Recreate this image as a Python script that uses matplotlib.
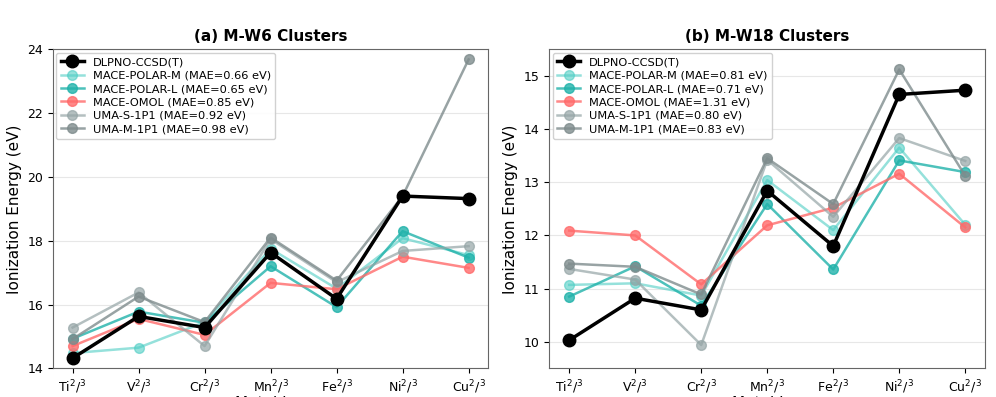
import numpy as np
import matplotlib
matplotlib.use('Agg')
import matplotlib.pyplot as plt

metals = ['Ti', 'V', 'Cr', 'Mn', 'Fe', 'Ni', 'Cu']
tick_labels = [m + r'$^{2}$/$^{3}$' for m in metals]

methods = ['DLPNO-CCSD(T)', 'MACE-POLAR-M', 'MACE-POLAR-L', 'MACE-OMOL', 'UMA-S-1P1', 'UMA-M-1P1']

# (a) M-W6 clusters, ionization energies in eV
w6_dlpno = [14.32, 15.63, 15.28, 17.63, 16.18, 19.40, 19.32]
w6_polar_m = [14.48, 14.65, 15.45, 17.75, 16.50, 18.08, 17.55]
w6_polar_l = [14.93, 15.78, 15.43, 17.20, 15.92, 18.30, 17.47]
w6_omol = [14.70, 15.55, 15.05, 16.68, 16.48, 17.50, 17.15]
w6_uma_s = [15.28, 16.38, 14.70, 18.05, 16.70, 17.68, 17.83]
w6_uma_m = [14.92, 16.25, 15.45, 18.10, 16.75, 19.40, 23.68]
w6_mae = [0.66, 0.65, 0.85, 0.92, 0.98]

# (b) M-W18 clusters
w18_dlpno = [10.03, 10.82, 10.60, 12.84, 11.80, 14.65, 14.73]
w18_polar_m = [11.07, 11.10, 10.87, 13.04, 12.10, 13.65, 12.20]
w18_polar_l = [10.85, 11.42, 10.68, 12.59, 11.36, 13.41, 13.19]
w18_omol = [12.09, 12.00, 11.08, 12.19, 12.52, 13.16, 12.15]
w18_uma_s = [11.37, 11.17, 9.94, 13.42, 12.35, 13.83, 13.40]
w18_uma_m = [11.47, 11.41, 10.89, 13.45, 12.59, 15.12, 13.12]
w18_mae = [0.81, 0.71, 1.31, 0.80, 0.83]

colors = ['#4ECDC4', '#20B2AA', '#FF6B6B', '#95A5A6', '#7F8C8D']
alphas = [0.6, 0.8, 0.8, 0.7, 0.8]


def draw_panel(ax, title, ref, models, maes, ylim, yticks):
    x = np.arange(len(metals))
    ax.plot(x, ref, '-o', color='black', lw=2.5, markersize=9,
            label=methods[0], zorder=10)
    for i, vals in enumerate(models):
        ax.plot(x, vals, '-o', color=colors[i], alpha=alphas[i], lw=1.8,
                markersize=7, label='%s (MAE=%.2f eV)' % (methods[i + 1], maes[i]),
                zorder=5)
    ax.set_title(title, fontsize=11, fontweight='bold')
    ax.set_xticks(x)
    ax.set_xticklabels(tick_labels, fontsize=9)
    ax.set_ylim(*ylim)
    ax.set_yticks(yticks)
    ax.tick_params(axis='y', labelsize=9)
    ax.set_xlim(-0.3, 6.3)
    ax.set_ylabel('Ionization Energy (eV)', fontsize=11)
    ax.set_xlabel('Metal Ion', fontsize=11, labelpad=0)
    ax.grid(axis='y', alpha=0.3)
    for s in ax.spines.values():
        s.set_color('#666666')
    ax.legend(loc='upper left', fontsize=8.2, framealpha=0.9,
              labelspacing=0.3, borderaxespad=0.3)


fig, (ax1, ax2) = plt.subplots(1, 2, figsize=(9.96, 3.97), dpi=100)
fig.subplots_adjust(left=0.053, right=0.989, top=0.876, bottom=0.072, wspace=0.14)

draw_panel(ax1, '(a) M-W6 Clusters', w6_dlpno,
           [w6_polar_m, w6_polar_l, w6_omol, w6_uma_s, w6_uma_m], w6_mae,
           (14, 24), [14, 16, 18, 20, 22, 24])
draw_panel(ax2, '(b) M-W18 Clusters', w18_dlpno,
           [w18_polar_m, w18_polar_l, w18_omol, w18_uma_s, w18_uma_m], w18_mae,
           (9.5, 15.5), [10, 11, 12, 13, 14, 15])

fig.savefig('out.png', dpi=100)
